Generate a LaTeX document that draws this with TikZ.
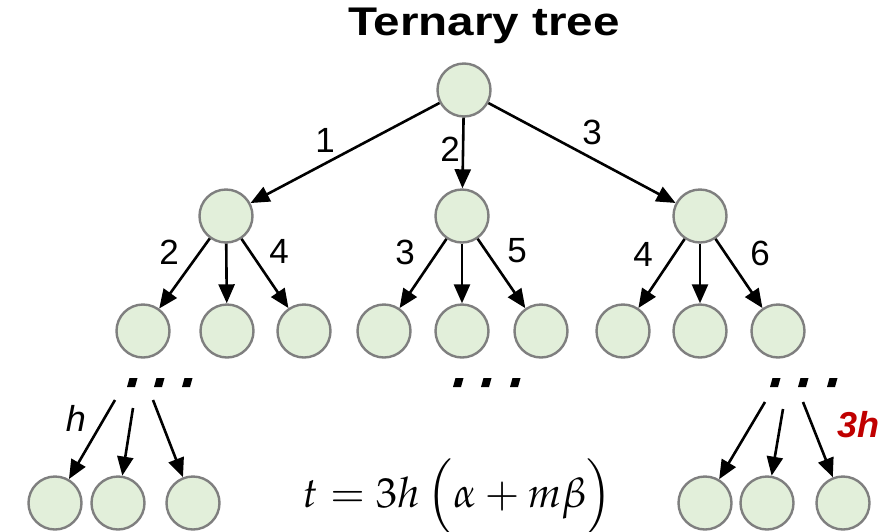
\documentclass[tikz,border=0pt]{standalone}
\usepackage{mathpazo}
\usepackage[no-math]{fontspec}
\setmainfont{Liberation Sans}
\usetikzlibrary{arrows.meta}
\definecolor{nodefill}{HTML}{E2EFDA}
\definecolor{nodeline}{HTML}{7F7F7F}
\definecolor{hred}{HTML}{C00000}
\tikzset{
  tnode/.style={circle, draw=nodeline, fill=nodefill, line width=2.4pt, minimum size=53pt, inner sep=0pt},
  tarrow/.style={line width=2.6pt, draw=black, -{Triangle[length=19pt,width=16pt]}},
  elabel/.style={font=\fontsize{35}{38}\selectfont, inner sep=0pt},
  dotbit/.style={fill=black}
}
\begin{document}
\begin{tikzpicture}[x=1pt,y=-1pt]
\useasboundingbox (0,0) rectangle (895,531);
% title
\node (title) at (484,26) {\fontsize{40}{44}\selectfont\bfseries\scalebox{1.19}[1]{Ternary tree}};
% root
\node[tnode] (r) at (464,90) {};
% level 1
\node[tnode] (a) at (226,216) {};
\node[tnode] (b) at (462,216) {};
\node[tnode] (c) at (700,216) {};
% level 2
\node[tnode] (a1) at (143,331) {};
\node[tnode] (a2) at (227,331) {};
\node[tnode] (a3) at (304,331) {};
\node[tnode] (b1) at (384,331) {};
\node[tnode] (b2) at (462,331) {};
\node[tnode] (b3) at (541,331) {};
\node[tnode] (c1) at (623,331) {};
\node[tnode] (c2) at (700,331) {};
\node[tnode] (c3) at (778,331) {};
% bottom
\node[tnode] (l1) at (55,503) {};
\node[tnode] (l2) at (118,503) {};
\node[tnode] (l3) at (193,503) {};
\node[tnode] (q1) at (705,503) {};
\node[tnode] (q2) at (767,503) {};
\node[tnode] (q3) at (843,503) {};
% edges
\draw[tarrow] (r) -- (a);
\draw[tarrow] (r) -- (b);
\draw[tarrow] (r) -- (c);
\foreach \p in {a,b,c}{
  \draw[tarrow] (\p) -- (\p1);
  \draw[tarrow] (\p) -- (\p2);
  \draw[tarrow] (\p) -- (\p3);
}
% edge labels
\node[elabel] (n1) at (325,140) {1};
\node[elabel] (n2) at (450,149) {2};
\node[elabel] (n3) at (592,132) {3};
\node[elabel] (m1) at (169,252) {2};
\node[elabel] (m2) at (279,251) {4};
\node[elabel] (m3) at (405,252) {3};
\node[elabel] (m4) at (517,251) {5};
\node[elabel] (m5) at (643,254) {4};
\node[elabel] (m6) at (760,253) {6};
% dots
\foreach \x in {127,154,182, 453,481,510, 770,798,827}{
  \fill[dotbit] (\x+2.5,378) -- (\x+10.5,378) -- (\x+8,387) -- (\x,387) -- cycle;
}
% free ends below dots
\coordinate (s1) at (115,400);
\coordinate (s2) at (133,408);
\coordinate (s3) at (153,400);
\coordinate (t1) at (765,402);
\coordinate (t2) at (783,409);
\coordinate (t3) at (803,402);
\draw[tarrow] (s1) -- (l1);
\draw[tarrow] (s2) -- (l2);
\draw[tarrow] (s3) -- (l3);
\draw[tarrow] (t1) -- (q1);
\draw[tarrow] (t2) -- (q2);
\draw[tarrow] (t3) -- (q3);
\node[inner sep=0pt] (hl) at (76,418) {\fontsize{36}{40}\selectfont\itshape h};
\node[inner sep=0pt, text=hred] (hr) at (858,425) {\fontsize{36}{40}\selectfont\bfseries\itshape 3h};
% formula
\node[inner sep=0pt] (f) at (458,497) {\fontsize{42}{48}\selectfont $t = 3h\,\Big(\alpha + m\beta\Big)$};
\end{tikzpicture}
\end{document}
